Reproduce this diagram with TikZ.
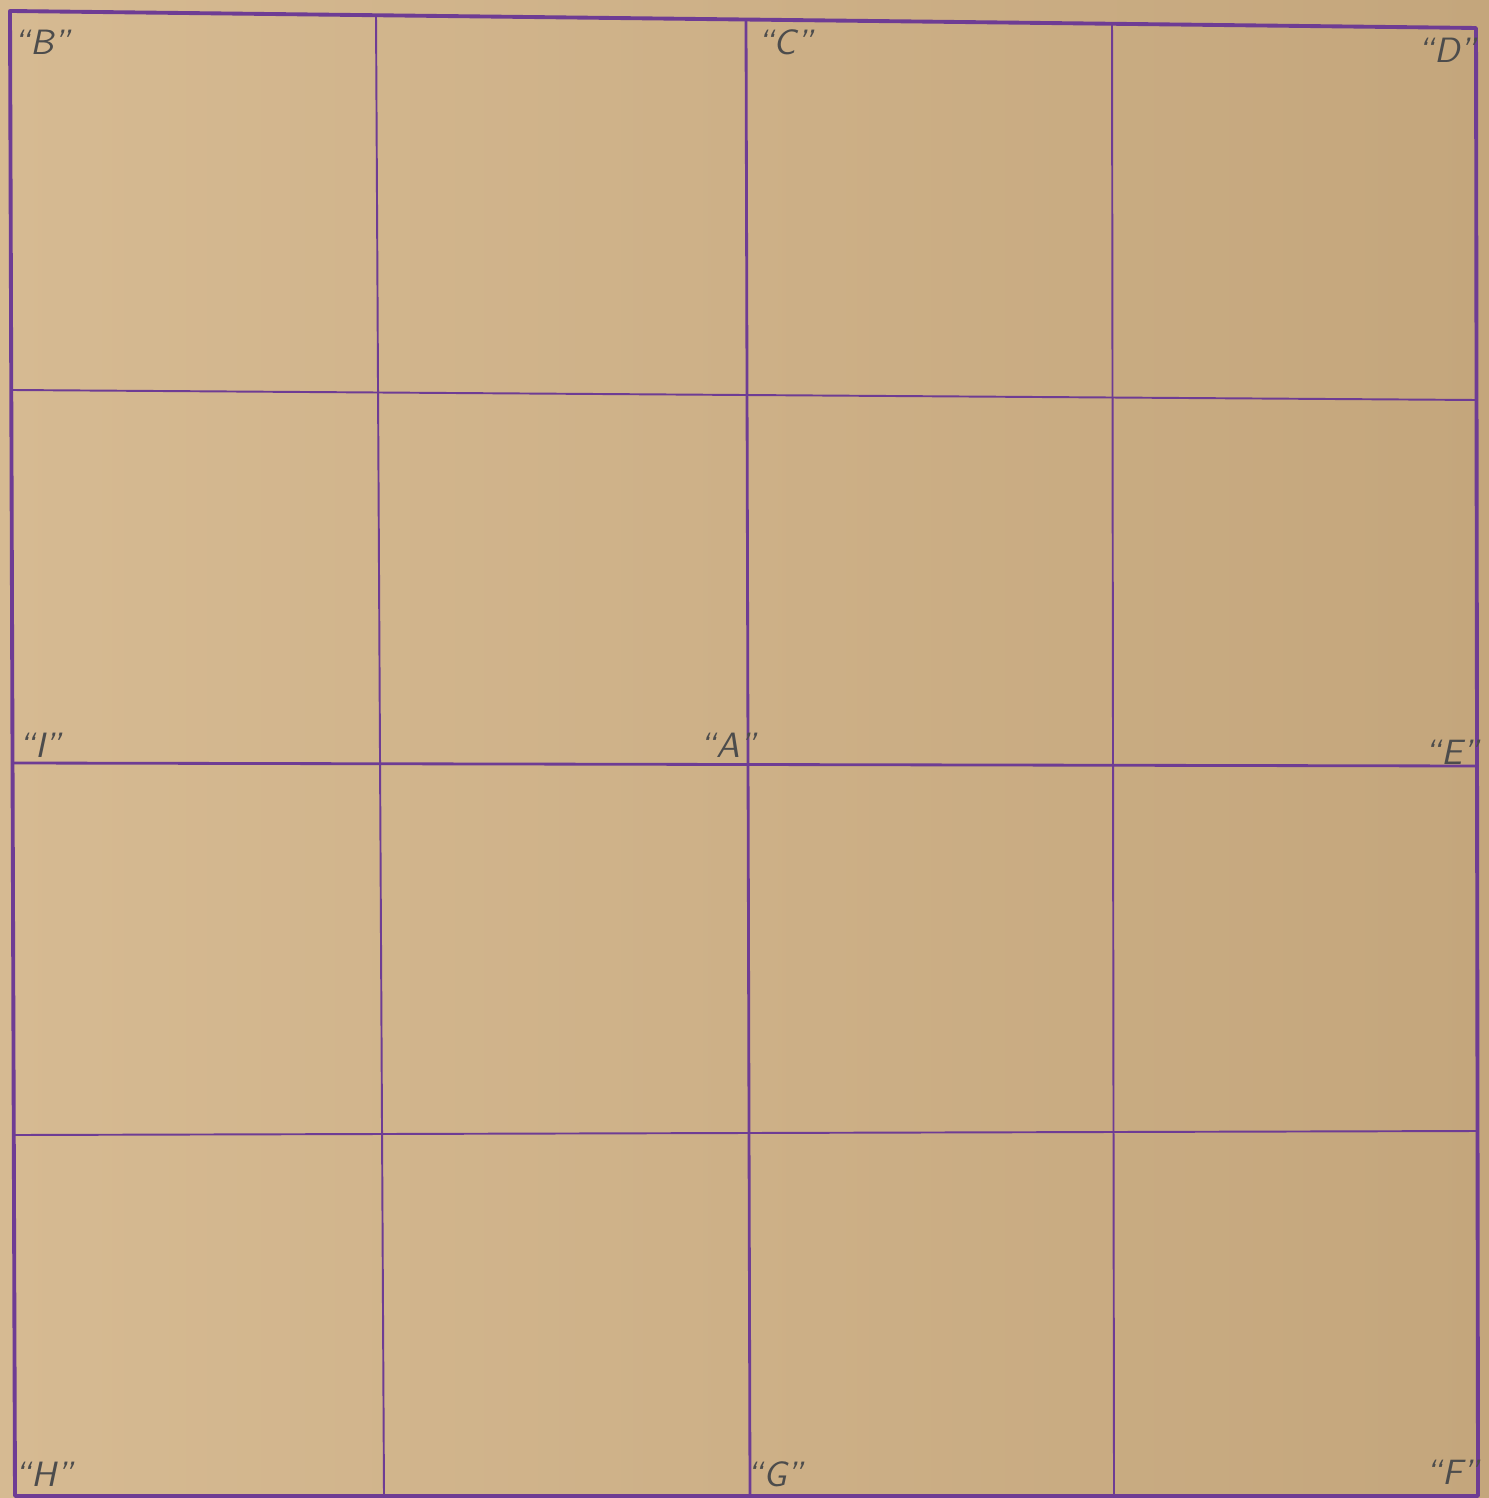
\documentclass[tikz,border=0pt]{standalone}
\usetikzlibrary{calc}
\definecolor{boardlight}{RGB}{214,186,146}
\definecolor{boarddark}{RGB}{196,166,124}
\definecolor{gridpurple}{RGB}{110,60,148}
\begin{document}
\begin{tikzpicture}[x=0.01cm, y=-0.01cm,
  gridline/.style={draw=gridpurple, line width=0.55pt},
  midline/.style={draw=gridpurple, line width=0.8pt},
  frameline/.style={draw=gridpurple, line width=1.1pt, line join=round},
  lbl/.style={font=\sffamily\slshape, text=black!70, inner sep=1pt},
]
  \shade[left color=boardlight, right color=boarddark] (0,0) rectangle (1489,1498);
  \useasboundingbox (0,0) rectangle (1489,1498);
  % frame corners
  \coordinate (tl) at (10,11);
  \coordinate (tr) at (1476,28);
  \coordinate (br) at (1478,1496);
  \coordinate (bl) at (15,1496);
  % vertical lines
  \foreach \xt/\yt/\xb in {376/15/384, 1112/24/1114}
    \draw[gridline] (\xt,\yt) -- (\xb,1496);
  \draw[midline] (746,20) -- (750,1496);
  % horizontal lines
  \foreach \yl/\xl/\yr/\xr in {390/11/400/1476, 1135/15/1131/1477}
    \draw[gridline] (\xl,\yl) -- (\xr,\yr);
  \draw[midline] (12,763) -- (1477,766);
  \draw[frameline] (tl) -- (tr) -- (br) -- (bl) -- cycle;
  % letters
  \node[lbl] (lblB) at (42,42) {``B''};
  \node[lbl] (lblC) at (785,42) {``C''};
  \node[lbl] (lblD) at (1447,50) {``D''};
  \node[lbl] (lblI) at (40,745) {``I''};
  \node[lbl] (lblA) at (728,745) {``A''};
  \node[lbl] (lblE) at (1452,752) {``E''};
  \node[lbl] (lblH) at (44,1474) {``H''};
  \node[lbl] (lblG) at (775,1474) {``G''};
  \node[lbl] (lblF) at (1452,1472) {``F''};
\end{tikzpicture}
\end{document}
